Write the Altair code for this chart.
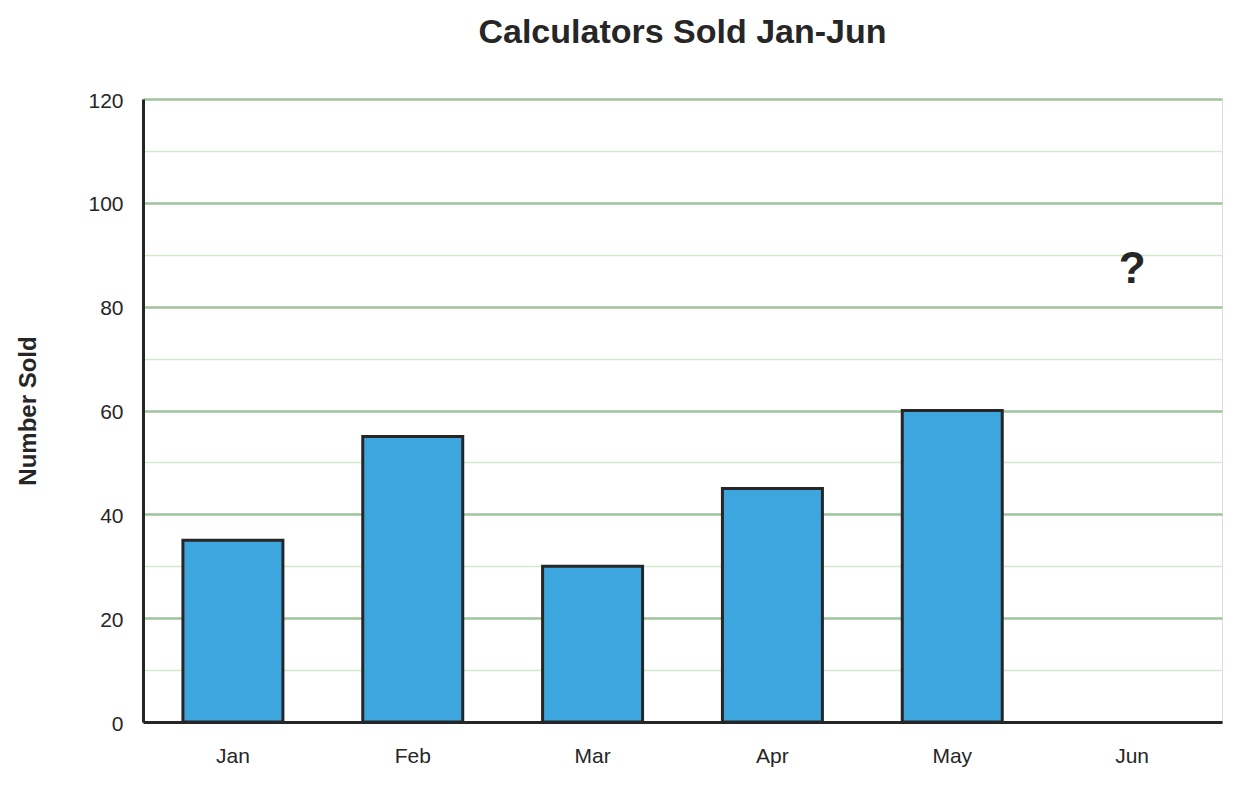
import altair as alt
import pandas as pd

months = ["Jan", "Feb", "Mar", "Apr", "May", "Jun"]
sold = [35, 55, 30, 45, 60, None]
y_ticks = [0, 10, 20, 30, 40, 50, 60, 70, 80, 90, 100, 110, 120]
note_month = ["Jun"]
note_value = [87]
note_text = ["?"]

df = pd.DataFrame({"Month": months, "Sold": sold})
notes = pd.DataFrame({"Month": note_month, "Sold": note_value, "Text": note_text})

FONT = "Liberation Sans"
INK = "#262626"

x_enc = alt.X(
    "Month:N",
    sort=months,
    scale=alt.Scale(domain=months, paddingInner=0.444, paddingOuter=0.222),
    axis=alt.Axis(
        title=None, labelAngle=0, labelFontSize=21, labelColor=INK, labelFont=FONT,
        labelPadding=23, ticks=False, domainColor=INK, domainWidth=3, grid=False,
    ),
)
y_enc = alt.Y(
    "Sold:Q",
    scale=alt.Scale(domain=[0, 120], nice=False),
    axis=alt.Axis(
        title="Number Sold", titleFontSize=24, titleFont=FONT, titleFontWeight="bold",
        titleColor=INK, titleX=-115, titleY=311.5, titleAngle=270,
        titleAlign="center", titleBaseline="middle",
        values=y_ticks,
        labelExpr="datum.value % 20 == 0 ? datum.label : ''",
        labelFontSize=21, labelColor=INK, labelFont=FONT, labelPadding=20, labelOffset=2,
        ticks=False, domainColor=INK, domainWidth=3,
        grid=True,
        gridColor=alt.condition("datum.value % 20 == 0", alt.value("#9fc39c"), alt.value("#d3e8cc")),
        gridWidth=alt.condition("datum.value % 20 == 0", alt.value(2.5), alt.value(1.6)),
        gridOpacity=1,
    ),
)

bars = alt.Chart(df).mark_bar(
    color="#3ea6df", stroke=INK, strokeWidth=3
).encode(x=x_enc, y=y_enc)

note = alt.Chart(notes).mark_text(
    font=FONT, fontSize=44, fontWeight="bold", color=INK, baseline="middle", align="center"
).encode(x=alt.X("Month:N", sort=months), y="Sold:Q", text="Text:N")

chart = alt.layer(bars, note).properties(
    width=1079,
    height=623,
    padding={"left": 135, "top": 91, "right": 11, "bottom": 50},
    autosize=alt.AutoSizeParams(type="none"),
    title=alt.Title(
        "Calculators Sold Jan-Jun", font=FONT, fontSize=34, fontWeight="bold",
        color=INK, anchor="middle", baseline="bottom", offset=6,
    ),
).configure_view(stroke="transparent", strokeWidth=0).configure(background="white")

chart.save("out.html", embed_options={"renderer": "svg", "actions": False})
